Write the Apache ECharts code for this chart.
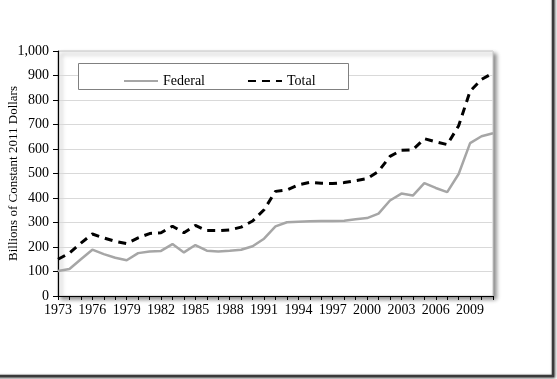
<!DOCTYPE html>
<html>
<head>
<meta charset="utf-8">
<script src="https://cdn.jsdelivr.net/npm/echarts@6/dist/echarts.min.js"></script>
<style>
html,body{margin:0;padding:0;background:#fff;}
#chart{width:557px;height:379px;}
</style>
</head>
<body>
<div id="chart"></div>
<script>
var years = [];
for (var y = 1973; y <= 2011; y++) years.push(String(y));

var federal = [102, 110, 150, 189, 171, 156, 146, 175, 182, 184, 212, 178, 208, 185, 182, 185, 189, 203,
  234, 284, 301, 303, 305, 306, 306, 307, 313, 318, 336, 390, 418, 410, 461, 441, 424, 498, 624, 652, 664];
var total = [150, 175, 216, 253, 237, 223, 214, 237, 255, 258, 285, 258, 288, 267, 267, 270, 281, 306,
  352, 427, 433, 454, 464, 460, 459, 463, 471, 479, 509, 570, 595, 597, 642, 629, 618, 695, 836, 884, 910];

var FONT = '"Liberation Serif", "Times New Roman", serif';
var G = {left: 58, top: 51, right: 64, bottom: 83};

var chart = echarts.init(document.getElementById('chart'));
chart.setOption({
  animation: false,
  backgroundColor: '#fff',
  textStyle: {fontFamily: FONT},
  graphic: [
    {type: 'rect', z: -10, shape: {x: -6, y: -6, width: 559, height: 382},
     style: {fill: '#fff', stroke: '#3a3a3a', lineWidth: 2.5, shadowBlur: 3, shadowColor: 'rgba(0,0,0,0.5)', shadowOffsetX: 1, shadowOffsetY: 1}},
    {type: 'rect', z: -5, shape: {x: G.left, y: G.top, width: 557 - G.left - G.right, height: 379 - G.top - G.bottom},
     style: {fill: '#fff', stroke: '#c8c8c8', lineWidth: 1, shadowBlur: 4, shadowColor: 'rgba(0,0,0,0.45)', shadowOffsetX: 3, shadowOffsetY: 3}},
    {type: 'rect', z: 50, shape: {x: 78.5, y: 63.5, width: 270, height: 26},
     style: {fill: '#fff', stroke: '#808080', lineWidth: 1}}
  ],
  legend: {
    left: 118, top: 69, z: 60,
    itemWidth: 34, itemHeight: 14, itemGap: 42,
    itemStyle: {opacity: 0},
    textStyle: {fontFamily: FONT, fontSize: 14, color: '#000'},
    data: [{name: 'Federal'}, {name: 'Total'}]
  },
  grid: {left: G.left, top: G.top, right: G.right, bottom: G.bottom, containLabel: false, outerBoundsMode: 'none'},
  xAxis: {
    type: 'category',
    data: years,
    boundaryGap: false,
    axisLine: {lineStyle: {color: '#000', width: 1.2}},
    axisTick: {show: true, interval: 0, length: 4, lineStyle: {color: '#000'}},
    axisLabel: {interval: 2, margin: 7, fontFamily: FONT, fontSize: 14, color: '#000'},
    splitLine: {show: false}
  },
  yAxis: {
    type: 'value',
    min: 0, max: 1000, interval: 100,
    name: 'Billions of Constant 2011 Dollars',
    nameLocation: 'middle',
    nameGap: 38,
    nameMoveOverlap: false,
    nameTextStyle: {fontFamily: FONT, fontSize: 13, color: '#000'},
    axisLine: {show: true, lineStyle: {color: '#000', width: 1.2}},
    axisTick: {show: true, length: 5, lineStyle: {color: '#000'}},
    axisLabel: {margin: 9, fontFamily: FONT, fontSize: 14, color: '#000',
      formatter: function (v) { return v.toLocaleString('en-US'); }},
    splitLine: {show: true, lineStyle: {color: '#d9d9d9', width: 1}}
  },
  series: [
    {name: 'Federal', type: 'line', data: federal, symbol: 'none', z: 3,
     lineStyle: {color: '#a6a6a6', width: 2.5}, itemStyle: {color: '#a6a6a6'}},
    {name: 'Total', type: 'line', data: total, symbol: 'none', z: 4,
     lineStyle: {color: '#000', width: 3, type: [8, 6]}, itemStyle: {color: '#000'}}
  ]
});
</script>
</body>
</html>
